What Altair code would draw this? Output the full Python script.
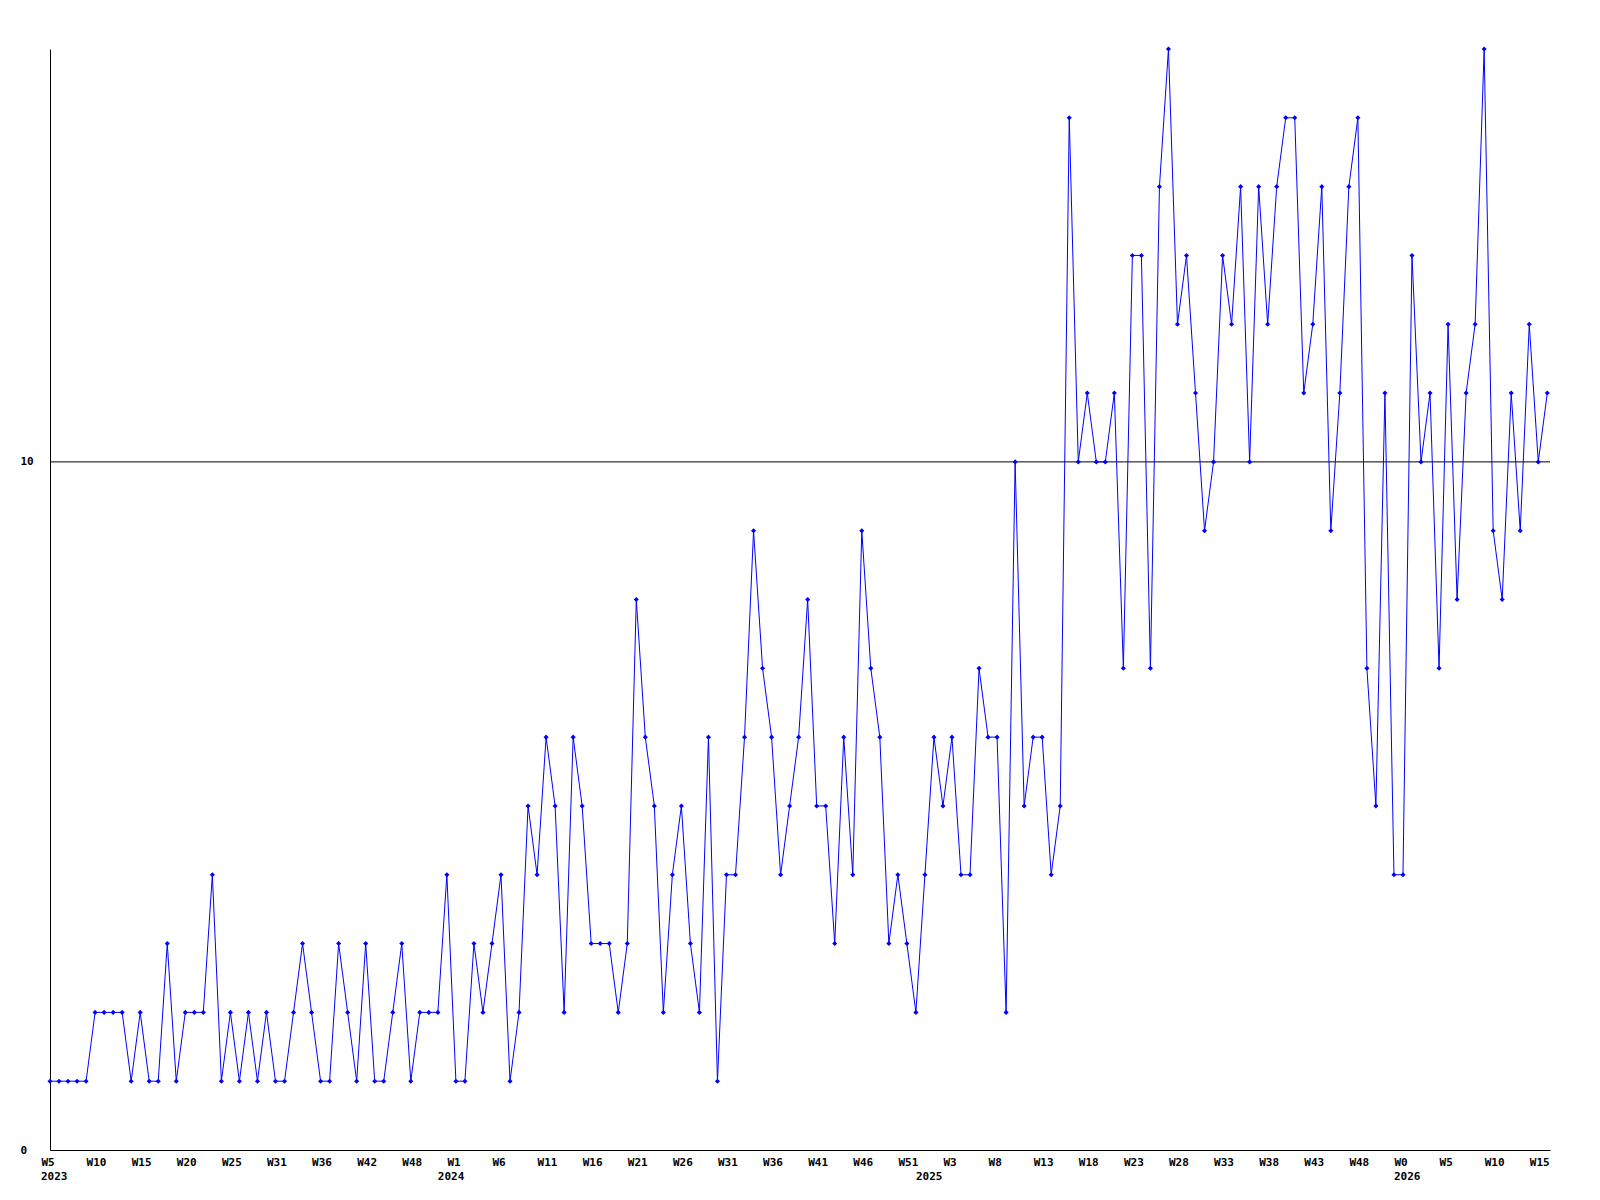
import altair as alt
import pandas as pd

# weekly values, one per point (index 0 = 2023 W5)
values = [
    1, 1, 1, 1, 1, 2, 2, 2, 2, 1,
    2, 1, 1, 3, 1, 2, 2, 2, 4, 1,
    2, 1, 2, 1, 2, 1, 1, 2, 3, 2,
    1, 1, 3, 2, 1, 3, 1, 1, 2, 3,
    1, 2, 2, 2, 4, 1, 1, 3, 2, 3,
    4, 1, 2, 5, 4, 6, 5, 2, 6, 5,
    3, 3, 3, 2, 3, 8, 6, 5, 2, 4,
    5, 3, 2, 6, 1, 4, 4, 6, 9, 7,
    6, 4, 5, 6, 8, 5, 5, 3, 6, 4,
    9, 7, 6, 3, 4, 3, 2, 4, 6, 5,
    6, 4, 4, 7, 6, 6, 2, 10, 5, 6,
    6, 4, 5, 15, 10, 11, 10, 10, 11, 7,
    13, 13, 7, 14, 16, 12, 13, 11, 9, 10,
    13, 12, 14, 10, 14, 12, 14, 15, 15, 11,
    12, 14, 9, 11, 14, 15, 7, 5, 11, 4,
    4, 13, 10, 11, 7, 12, 8, 11, 12, 16,
    9, 8, 11, 9, 12, 10, 11,
]

# tick labels, one every 5 points
tick_labels = ["W5", "W10", "W15", "W20", "W25", "W31", "W36", "W42", "W48",
               "W1", "W6", "W11", "W16", "W21", "W26", "W31", "W36", "W41",
               "W46", "W51", "W3", "W8", "W13", "W18", "W23", "W28", "W33",
               "W38", "W43", "W48", "W0", "W5", "W10", "W15"]

# year labels and the point index where each year starts
year_labels = ["2023", "2024", "2025", "2026"]
year_index = [0, 44, 97, 150]

y_ticks = [0, 10]
ref_level = [10]

df = pd.DataFrame({"i": list(range(len(values))), "v": values})
years = pd.DataFrame({"i": year_index, "year": year_labels})
ref = pd.DataFrame({"r": ref_level})

W, H = 1500, 1101
FONT = "DejaVu Sans Mono"
BLUE = "#0000ff"

label_js = "[" + ",".join(f"'{t}'" for t in tick_labels) + "]"

xscale = alt.Scale(domain=[0, 166.3], nice=False, zero=False)
yscale = alt.Scale(domain=[0, 16], nice=False)

x_enc = alt.X(
    "i:Q",
    scale=xscale,
    axis=alt.Axis(
        values=list(range(0, 5 * len(tick_labels), 5)),
        labelExpr=f"{label_js}[round(datum.value/5)]",
        title=None,
        grid=False,
        ticks=False,
        tickSize=0,
        labelAlign="left",
        labelBaseline="top",
        labelOffset=-9,
        labelPadding=6,
        labelFont=FONT,
        labelFontWeight="bold",
        labelFontSize=11,
        labelColor="black",
        labelOverlap=False,
        labelFlush=False,
        domainColor="black",
        domainWidth=1,
    ),
)

y_enc = alt.Y(
    "v:Q",
    scale=yscale,
    axis=alt.Axis(
        values=y_ticks,
        format="d",
        title=None,
        grid=False,
        ticks=False,
        tickSize=0,
        labelAlign="left",
        labelBaseline="middle",
        labelPadding=30,
        labelFont=FONT,
        labelFontWeight="bold",
        labelFontSize=11,
        labelColor="black",
        labelOverlap=False,
        labelFlush=False,
        domainColor="black",
        domainWidth=1,
    ),
)

rule = alt.Chart(ref).mark_rule(color="black", strokeWidth=1).encode(
    y=alt.Y("r:Q", scale=yscale)
)

line = alt.Chart(df).mark_line(color=BLUE, strokeWidth=1).encode(x=x_enc, y=y_enc)

points = alt.Chart(df).mark_point(
    shape="diamond", filled=True, size=26, color=BLUE, opacity=1
).encode(x=alt.X("i:Q", scale=xscale), y=alt.Y("v:Q", scale=yscale))

year_text = alt.Chart(years).mark_text(
    align="left", baseline="middle", dx=-9, font=FONT, fontWeight="bold",
    fontSize=11, color="black"
).encode(
    x=alt.X("i:Q", scale=xscale),
    y=alt.value(H + 27),
    text="year:N",
)

chart = alt.layer(rule, line, points, year_text).properties(
    width=W,
    height=H,
    autosize=alt.AutoSizeParams(type="none"),
    padding={"left": 42, "top": 41, "right": 40, "bottom": 50},
    background="white",
).configure_view(strokeWidth=0)

chart.save("out.html", embed_options={"renderer": "svg", "actions": False})
